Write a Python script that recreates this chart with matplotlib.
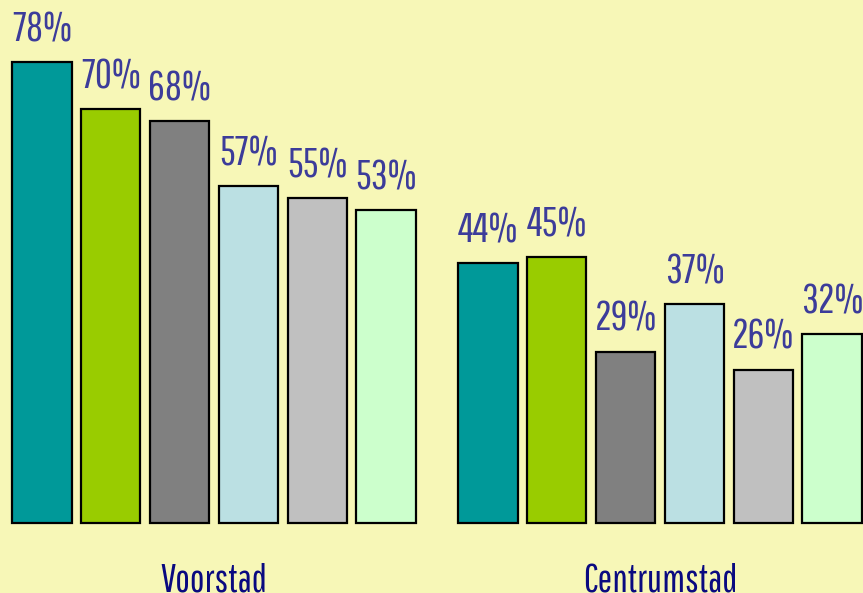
import matplotlib
matplotlib.use('Agg')
from matplotlib import pyplot as plt

groups = ['Voorstad', 'Centrumstad']
voorstad = [78, 70, 68, 57, 55, 53]
centrumstad = [44, 45, 29, 37, 26, 32]
bar_colors = ['#009999', '#99CC00', '#808080', '#BBE0E3', '#C0C0C0', '#CCFFCC']

# narrow font first, plain one as fallback
fonts = ['Pathway Gothic One', 'Oswald', 'DejaVu Sans']

bg = '#F7F7B7'
fig = plt.figure(figsize=(8.63, 5.93), dpi=100, facecolor=bg)
ax = fig.add_axes([0, 0, 1, 1])
ax.set_facecolor(bg)
ax.axis('off')

group_offset = 6.48
for g, values in enumerate([voorstad, centrumstad]):
    xs = [g * group_offset + i for i in range(len(values))]
    ax.bar(xs, values, width=0.86, color=bar_colors, edgecolor='black', linewidth=1.6)
    for x, v in zip(xs, values):
        ax.annotate('%d%%' % v, (x, v), xytext=(0, 15), textcoords='offset points',
                    ha='center', va='baseline', fontsize=30, color='#3C3C9A',
                    family=fonts)
    ax.text(g * group_offset + 2.5, -11.5, groups[g], ha='center', va='baseline',
            fontsize=28, color='#0A0A80', family=fonts)

ax.set_xlim(-0.61, 11.93)
ax.set_ylim(-11.8, 88.5)

fig.savefig('out.png', dpi=100, facecolor=bg)
